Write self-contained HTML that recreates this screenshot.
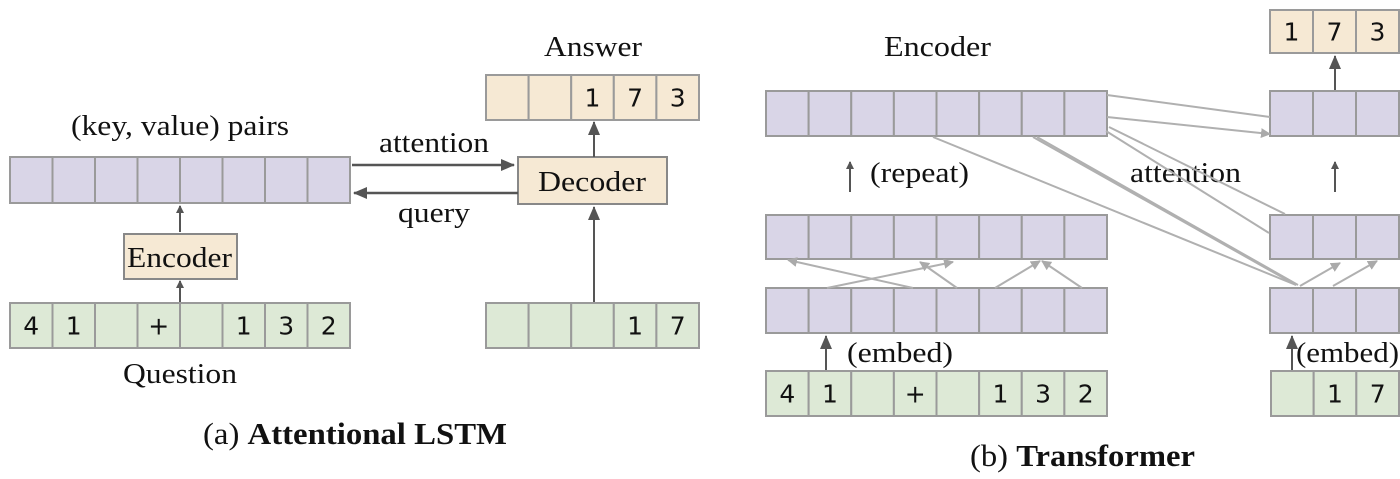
<!DOCTYPE html>
<html><head><meta charset="utf-8"><style>
html,body{margin:0;padding:0;background:#fff;width:1400px;height:479px;overflow:hidden}
svg text{font-family:"Liberation Serif",serif;fill:#111}
.d{font-family:"DejaVu Sans","Liberation Sans",sans-serif;font-size:25px;fill:#111}
</style></head><body>
<svg id="fig" width="1400" height="479" viewBox="0 0 1400 479" xmlns="http://www.w3.org/2000/svg">
<defs>
<marker id="ad" markerWidth="8" markerHeight="8" refX="7" refY="4" orient="auto" markerUnits="userSpaceOnUse"><path d="M0,0 L8,4 L0,8 Z" fill="#555"/></marker>
<marker id="al" markerWidth="10" markerHeight="10" refX="9" refY="5" orient="auto" markerUnits="userSpaceOnUse"><path d="M0,0 L10,5 L0,10 Z" fill="#aaa"/></marker>
<marker id="ab" markerWidth="14" markerHeight="14" refX="13" refY="7" orient="auto" markerUnits="userSpaceOnUse"><path d="M0,1 L14,7 L0,13 Z" fill="#555"/></marker>
</defs>
<g id="g"></g>
</svg>
<script>
const P='#d9d5e7',G='#dde9d6',B='#f6e9d4';
const leftRowCells=['4','1','','+','','1','3','2'];
const answerCells=['','','1','7','3'];
const decInCells=['','','','1','7'];
const outCells=['1','7','3'];
const decEmbCells=['','1','7'];
const g=document.getElementById('g');
function el(t,a,parent){const e=document.createElementNS('http://www.w3.org/2000/svg',t);for(const k in a)e.setAttribute(k,a[k]);(parent||g).appendChild(e);return e;}
function row(x0,x1,y0,y1,cells,fill,name){
  const grp=el('g',{});
  
  
  const w=(x1-x0)/cells.length;
  cells.forEach((c,i)=>{
    el('rect',{x:x0+i*w,y:y0,width:w,height:y1-y0,fill:fill,stroke:'#9a9a9a','stroke-width':2},grp);
    if(c){const t=el('text',{x:x0+i*w+w/2,y:(y0+y1)/2+9,'text-anchor':'middle',class:'d'},grp);t.textContent=c;}
  });
}
function txt(x0,x1,y,s,size,name){
  const t=el('text',{x:x0,y:y,'font-size':size,textLength:x1-x0,lengthAdjust:'spacingAndGlyphs'});
  
  
  t.textContent=s;return t;
}
function line(x1,y1,x2,y2,c,w,m,name){
  const l=el('line',{x1,y1,x2,y2,stroke:c,'stroke-width':w});
  if(m)l.setAttribute('marker-end','url(#'+m+')');
  
  
}
const E8=Array(8).fill('');
// (a)
row(10,350,157,203,E8,P,'key-value-row');
row(10,350,303,348,leftRowCells,G,'question-row');
row(486,699,75,120,answerCells,B,'answer-row');
row(486,699,303,348,decInCells,G,'decoder-input-row');
let r=el('rect',{x:124,y:234,width:113,height:45,fill:B,stroke:'#888','stroke-width':2});

r=el('rect',{x:518,y:157,width:149,height:47,fill:B,stroke:'#888','stroke-width':2});

txt(127,232,267,'Encoder',29,'encoder-label');
txt(538,646,191,'Decoder',29,'decoder-label');
txt(71,289,135,'(key, value) pairs',29,'kv-label');
txt(544,642,56,'Answer',29,'answer-label');
txt(123,237,383,'Question',29,'question-label');
txt(379,489,152,'attention',29,'attention-label-a');
txt(398,470,222,'query',29,'query-label');
line(180,302,180,281,'#555',2,'ad','arrow-question-encoder');
line(180,232,180,206,'#555',2,'ad','arrow-encoder-kv');
line(352,165,514,165,'#555',2.5,'ab','arrow-attention');
line(518,193,354,193,'#555',2.5,'ab','arrow-query');
line(594,302,594,207,'#555',2,'ab','arrow-decinput-decoder');
line(594,157,594,122,'#555',2,'ab','arrow-decoder-answer');
let t=el('text',{x:203,y:444,'font-size':31,textLength:304,lengthAdjust:'spacingAndGlyphs'});

const s1=el('tspan',{},t);s1.textContent='(a) ';
const s2=el('tspan',{'font-weight':'bold'},t);s2.textContent='Attentional LSTM';
// (b)
row(766,1107,91,136,E8,P,'encoder-top-row');
row(766,1107,215,259,E8,P,'encoder-mid-row');
row(766,1107,288,333,E8,P,'encoder-embed-row');
row(766,1107,371,416,leftRowCells,G,'encoder-input-row');
row(1270,1399,10,53,outCells,B,'output-row');
row(1270,1399,91,136,['','',''],P,'decoder-top-row');
row(1270,1399,215,259,['','',''],P,'decoder-mid-row');
row(1270,1399,288,333,['','',''],P,'decoder-embed-row');
row(1271,1399,371,416,decEmbCells,G,'decoder-input-row-b');
txt(884,991,56,'Encoder',29,'encoder-title');
txt(870,969,182,'(repeat)',29,'repeat-label');
txt(1130,1241,182,'attention',29,'attention-label-b');
txt(847,953,362,'(embed)',29,'embed-label-enc');
txt(1296,1399,362,'(embed)',29,'embed-label-dec');
line(850,192,850,162,'#555',2,'ad','repeat-arrow');
line(1335,192,1335,162,'#555',2,'ad','decoder-repeat-arrow');
line(1335,90,1335,56,'#555',2,'ab','arrow-to-output');
line(826,370,826,336,'#555',2,'ab','embed-arrow-enc');
line(1292,370,1292,336,'#555',2,'ab','embed-arrow-dec');
const gc='#b0b0b0';
line(1107,95,1270,117,gc,2,null,'attn-line-1');
line(1107,117,1270,134,gc,2,'al','attn-line-2');
line(1109,127,1285,214,gc,2,null,'attn-line-3');
line(1106,131,1269,233,gc,2,null,'attn-line-4');
line(933,137,1296,285,gc,2,null,'attn-line-5');
line(1033,137,1296,285,gc,2,null,'attn-line-6');
line(1037,137,1298,285,gc,2,null,'attn-line-7');
line(827,288,953,262,gc,2,'al','self-attn-1');
line(913,288,788,260,gc,2,'al','self-attn-2');
line(957,288,920,262,gc,2,'al','self-attn-3');
line(995,288,1040,261,gc,2,'al','self-attn-4');
line(1082,288,1042,261,gc,2,'al','self-attn-5');
line(1300,286,1340,263,gc,2,'al','dec-self-attn-1');
line(1333,286,1377,261,gc,2,'al','dec-self-attn-2');
t=el('text',{x:970,y:466,'font-size':31,textLength:225,lengthAdjust:'spacingAndGlyphs'});

const s3=el('tspan',{},t);s3.textContent='(b) ';
const s4=el('tspan',{'font-weight':'bold'},t);s4.textContent='Transformer';
</script>
</body></html>
